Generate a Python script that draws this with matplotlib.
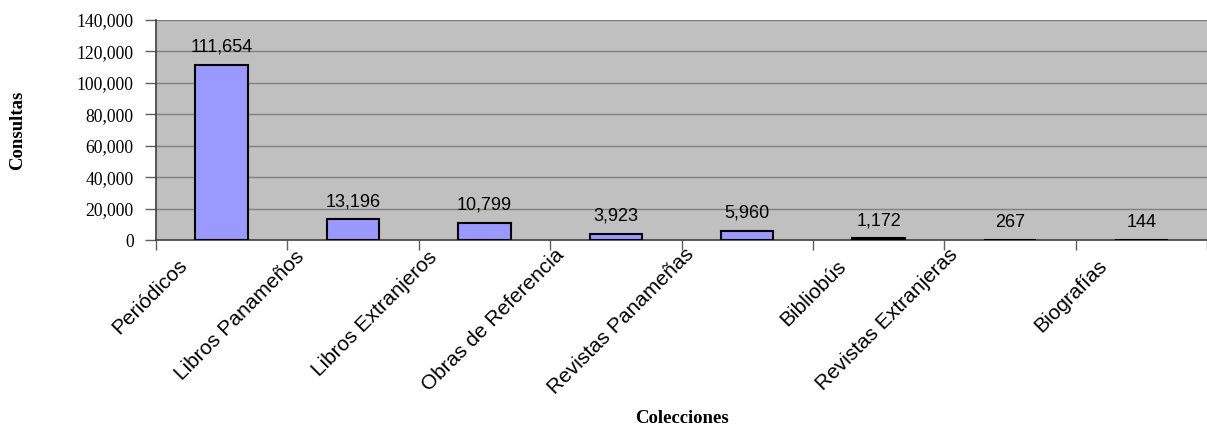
import matplotlib
matplotlib.use("Agg")
import matplotlib.pyplot as plt
from matplotlib.ticker import FuncFormatter, FixedLocator
from matplotlib.font_manager import FontProperties
from matplotlib.transforms import ScaledTranslation

categories = ["Periódicos", "Libros Panameños", "Libros Extranjeros", "Obras de Referencia",
              "Revistas Panameñas", "Bibliobús", "Revistas Extranjeras", "Biografías"]
consultas = [111654, 13196, 10799, 3923, 5960, 1172, 267, 144]
y_ticks = [0, 20000, 40000, 60000, 80000, 100000, 120000, 140000]

W, H = 1207, 436
fig = plt.figure(figsize=(W / 100, H / 100), dpi=100)
ax = fig.add_axes([156 / W, (H - 240) / H, (1207 - 156) / W, 220 / H])
ax.set_facecolor("#C0C0C0")

x = list(range(len(categories)))
ax.bar(x, consultas, width=0.4, color="#9999FF", edgecolor="black", linewidth=1.5, zorder=3)

ax.set_xlim(-0.5, len(categories) - 0.5)
ax.set_ylim(0, 140000)
ax.set_yticks(y_ticks)
ax.yaxis.set_major_formatter(FuncFormatter(lambda v, p: f"{int(v):,}"))
for t in ax.get_yticklabels():
    t.set_fontfamily("Liberation Serif")
    t.set_fontsize(12.7)
ax.grid(axis="y", color="#808080", linewidth=1, zorder=1)
ax.set_axisbelow(True)

# ticks at category boundaries
ax.xaxis.set_major_locator(FixedLocator([i - 0.5 for i in range(len(categories) + 1)]))
ax.xaxis.set_major_formatter(FuncFormatter(lambda v, p: ""))
ax.tick_params(axis="x", which="major", length=7, width=1, color="#606060", direction="out")
ax.tick_params(axis="y", length=8, width=1, color="#606060", direction="out", pad=8)

for s in ["top", "right"]:
    ax.spines[s].set_visible(False)
for s in ["left", "bottom"]:
    ax.spines[s].set_color("#404040")
    ax.spines[s].set_linewidth(1.2)

# rotated category labels, placed Excel-like relative to the left boundary tick
renderer = fig.canvas.get_renderer()
lab_fp = FontProperties(family="Liberation Sans", size=15)
for xi, lab in zip(x, categories):
    w, h, d = renderer.get_text_width_height_descent(lab, lab_fp, ismath=False)
    dx = 45.5 - 0.18 * w
    dy = 33.0 - 0.11 * w
    tr = ax.get_xaxis_transform() + ScaledTranslation(dx / 100, -dy / 100, fig.dpi_scale_trans)
    ax.text(xi - 0.5, 0, lab, transform=tr, rotation=45, ha="right", va="center",
            rotation_mode="anchor", fontproperties=lab_fp, clip_on=False)

for xi, v in zip(x, consultas):
    ax.annotate(f"{v:,}", xy=(xi, v), xytext=(0, 9.4), textcoords="offset points",
                ha="center", va="baseline", fontfamily="Liberation Sans", fontsize=13,
                color="black", zorder=4)

fig.text(18 / W, 1 - 130 / H, "Consultas", rotation=90, ha="center", va="center",
         fontfamily="Liberation Serif", fontweight="bold", fontsize=13.5)
fig.text(682 / W, 1 - 418 / H, "Colecciones", ha="center", va="center",
         fontfamily="Liberation Serif", fontweight="bold", fontsize=13.5)

fig.savefig("out.png", dpi=100, facecolor="white")
